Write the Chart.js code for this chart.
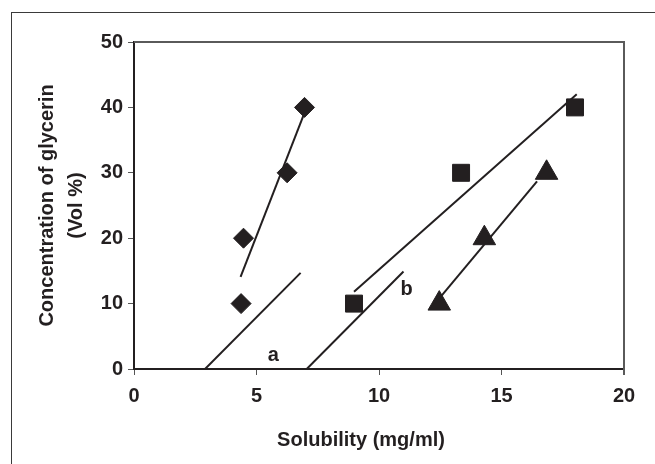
<!DOCTYPE html>
<html>
<head>
<meta charset="utf-8">
<style>
  html, body { margin: 0; padding: 0; background: #fff; }
  #chart { display: block; }
</style>
<script src="https://cdn.jsdelivr.net/npm/chart.js@4.4.0/dist/chart.umd.min.js"></script>
</head>
<body>
<canvas id="chart" width="655" height="464"></canvas>
<script>
// Measured points (solubility mg/ml vs glycerin vol %)
const diamondX = [4.37, 4.47, 6.25, 6.96];
const diamondY = [10, 20, 30, 40];
const squareX = [8.98, 13.35, 18.0];
const squareY = [10, 30, 40];
const triangleX = [12.46, 14.3, 16.84];
const triangleY = [10, 20, 30];

// Straight lines drawn on the figure (two end points each)
const diamondFitX = [4.35, 6.93];
const diamondFitY = [14.1, 38.9];
const squareFitX = [8.98, 18.07];
const squareFitY = [11.8, 42.0];
const triangleFitX = [12.53, 16.45];
const triangleFitY = [11.1, 28.7];
const lineAX = [2.9, 6.8];
const lineAY = [0, 14.7];
const lineBX = [7.05, 11.0];
const lineBY = [0, 14.9];

// Line labels
const lineLabels = ['a', 'b'];
const lineLabelX = [5.69, 11.13];
const lineLabelY = [2.1, 12.1];

const xTitle = 'Solubility (mg/ml)';
const yTitle = ['Concentration of glycerin', '(Vol %)'];

const INK = '#231f20';
const FONT = "'Liberation Sans', Arial, sans-serif";

const toPoints = (xs, ys) => xs.map((x, i) => ({ x: x, y: ys[i] }));

function lineSet(xs, ys) {
    return {
        type: 'line',
        data: toPoints(xs, ys),
        borderColor: INK,
        borderWidth: 2,
        pointRadius: 0,
        fill: false,
        order: 2
    };
}

function markerSet(xs, ys, style, radius) {
    return {
        type: 'scatter',
        data: toPoints(xs, ys),
        pointStyle: style,
        pointRadius: radius,
        backgroundColor: INK,
        borderColor: INK,
        borderWidth: 1,
        order: 1
    };
}

// Outer frame, plot top/right border, line labels and x title
const decorations = {
    id: 'decorations',
    afterDraw(chart) {
        const ctx = chart.ctx;
        const area = chart.chartArea;
        const xs = chart.scales.x;
        const ys = chart.scales.y;
        ctx.save();

        ctx.strokeStyle = '#3a3a3a';
        ctx.lineWidth = 1;
        ctx.strokeRect(11.5, 12.5, 700, 500);

        ctx.strokeStyle = '#5a5a5a';
        ctx.lineWidth = 2;
        ctx.beginPath();
        ctx.moveTo(area.left, area.top);
        ctx.lineTo(area.right, area.top);
        ctx.lineTo(area.right, area.bottom + 6);
        ctx.stroke();

        ctx.fillStyle = INK;
        ctx.font = 'bold 20px ' + FONT;
        ctx.textAlign = 'center';
        ctx.textBaseline = 'middle';
        lineLabels.forEach((t, i) => {
            ctx.fillText(t, xs.getPixelForValue(lineLabelX[i]), ys.getPixelForValue(lineLabelY[i]));
        });

        ctx.fillText(xTitle, 361, 440);
        ctx.restore();
    }
};

new Chart(document.getElementById('chart'), {
    data: {
        datasets: [
            lineSet(diamondFitX, diamondFitY),
            lineSet(squareFitX, squareFitY),
            lineSet(triangleFitX, triangleFitY),
            lineSet(lineAX, lineAY),
            lineSet(lineBX, lineBY),
            markerSet(diamondX, diamondY, 'rectRot', 10),
            markerSet(squareX, squareY, 'rect', 12),
            markerSet(triangleX, triangleY, 'triangle', 13)
        ]
    },
    options: {
        responsive: false,
        animation: false,
        layout: { padding: { top: 42, right: 31, bottom: 0, left: 0 } },
        plugins: {
            legend: { display: false },
            tooltip: { enabled: false }
        },
        scales: {
            x: {
                type: 'linear',
                min: 0,
                max: 20,
                border: { display: true, color: INK, width: 2 },
                grid: { drawOnChartArea: false, drawTicks: true, tickLength: 6, color: '#555', lineWidth: 1 },
                ticks: { stepSize: 5, padding: 9, color: INK, font: { family: FONT, size: 20, weight: 'bold' } },
                afterFit(scale) { scale.height = 464 - 369; }
            },
            y: {
                type: 'linear',
                min: 0,
                max: 50,
                border: { display: true, color: INK, width: 2 },
                grid: { drawOnChartArea: false, drawTicks: true, tickLength: 6, color: '#555', lineWidth: 1 },
                ticks: { stepSize: 10, padding: 5, color: INK, font: { family: FONT, size: 20, weight: 'bold' } },
                title: {
                    display: true,
                    text: yTitle,
                    color: INK,
                    padding: { top: 33, bottom: 0 },
                    font: { family: FONT, size: 20, weight: 'bold', lineHeight: 1.45 }
                },
                afterFit(scale) { scale.width = 134; }
            }
        }
    },
    plugins: [decorations]
});
</script>
</body>
</html>
